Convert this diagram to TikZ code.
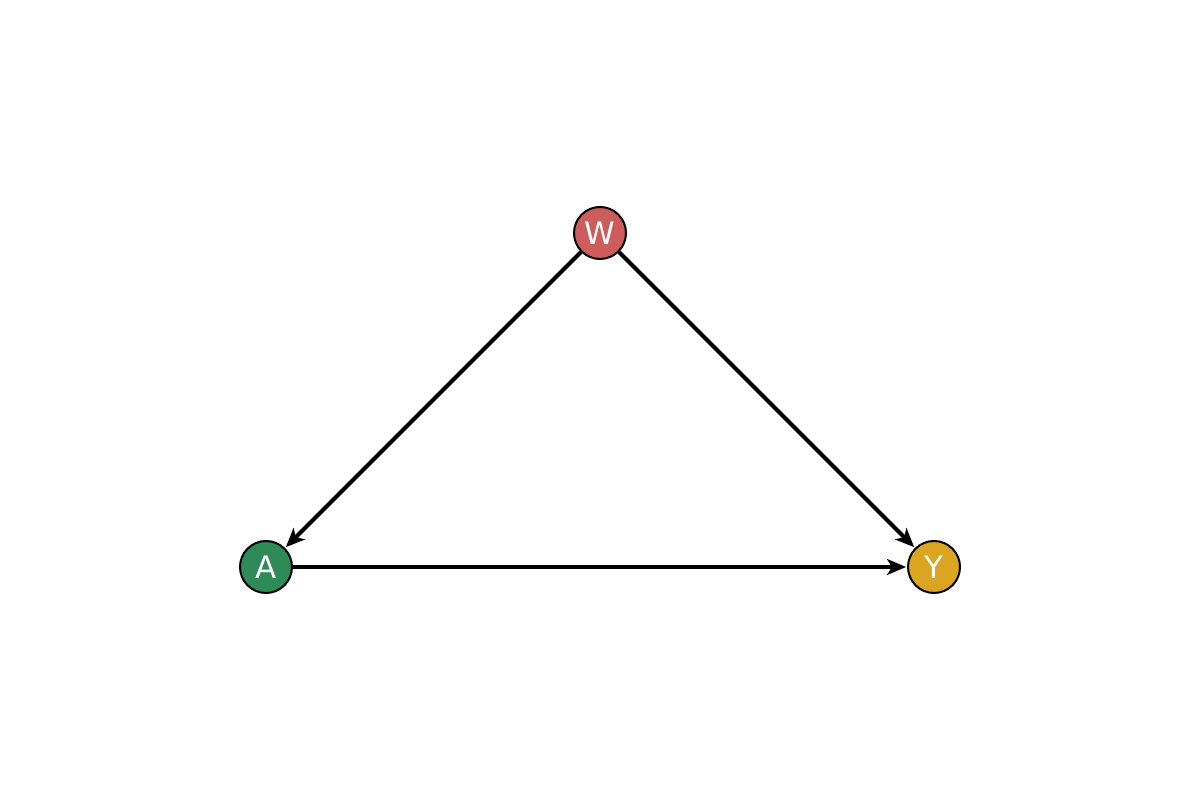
\documentclass[tikz,border=0pt]{standalone}
\usepackage{fontspec}
\setmainfont{DejaVu Sans}
\usetikzlibrary{arrows.meta}
\definecolor{wcol}{HTML}{CD5C5C}
\definecolor{acol}{HTML}{2E8B57}
\definecolor{ycol}{HTML}{DAA520}
\tikzset{
  var/.style={circle, draw=black, line width=2pt, minimum size=52pt, inner sep=0pt, text=white, font=\fontsize{31}{32}\selectfont},
  edge/.style={line width=4pt, -{Stealth[length=19pt, width=16pt, inset=5pt]}, shorten >=1pt}
}
\begin{document}
\begin{tikzpicture}[x=1pt,y=1pt]
\useasboundingbox (0,0) rectangle (1200,800);
\node[var, fill=wcol] (W) at (600,567) {W};
\node[var, fill=acol] (A) at (266,233) {A};
\node[var, fill=ycol] (Y) at (934,233) {Y};
\draw[edge] (W) -- (A);
\draw[edge] (W) -- (Y);
\draw[edge] (A) -- (Y);
\end{tikzpicture}
\end{document}
